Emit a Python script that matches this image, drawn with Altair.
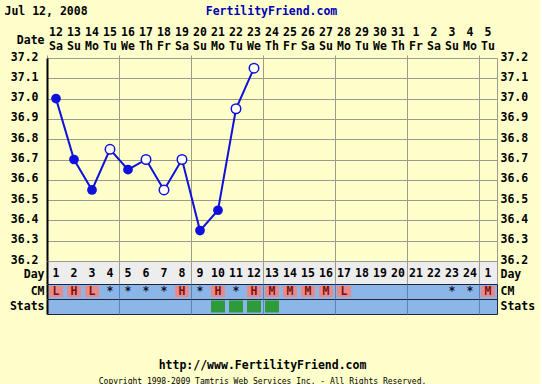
import altair as alt
import pandas as pd

# ---- data ----
dates = [12, 13, 14, 15, 16, 17, 18, 19, 20, 21, 22, 23, 24, 25, 26, 27, 28, 29, 30, 31, 1, 2, 3, 4, 5]
weekdays = ["Sa", "Su", "Mo", "Tu", "We", "Th", "Fr", "Sa", "Su", "Mo", "Tu", "We", "Th",
            "Fr", "Sa", "Su", "Mo", "Tu", "We", "Th", "Fr", "Sa", "Su", "Mo", "Tu"]
cycle_days = [1, 2, 3, 4, 5, 6, 7, 8, 9, 10, 11, 12, 13, 14, 15, 16, 17, 18, 19, 20, 21, 22, 23, 24, 1]
temps = [37.00, 36.70, 36.55, 36.75, 36.65, 36.70, 36.55, 36.70, 36.35, 36.45, 36.95, 37.15]
temp_filled = [True, True, True, False, True, False, False, False, True, True, False, False]
cm = ["L", "H", "L", "*", "*", "*", "*", "H", "*", "H", "*", "H", "M",
      "M", "M", "M", "L", "", "", "", "", "", "*", "*", "M"]
stats = [False, False, False, False, False, False, False, False, False, True, True, True, True,
         False, False, False, False, False, False, False, False, False, False, False, False]
temp_ticks = [36.2, 36.3, 36.4, 36.5, 36.6, 36.7, 36.8, 36.9, 37.0, 37.1, 37.2]
row_labels = ["Day", "CM", "Stats"]

# ---- styling ----
F = "DejaVu Sans Mono"
FS = 11.5
BG = "#FFFFCC"
GRID = "#9c9c8c"
BLUE = "#1010DC"
ROWBLUE = "#8DB6E8"
ROWGRID = "#5f82b4"
DARK = "#23233a"
PINK = "#E88A8A"
GREEN = "#2F9A3A"

n = len(dates)
idx = list(range(1, n + 1))
col_edges = [k + 0.5 for k in range(n + 1)]
XSCALE = alt.Scale(domain=[0.5, n + 0.5], nice=False, zero=False)

# header (date + weekday)
hdr_df = pd.DataFrame({
    "i": idx + idx,
    "row": ["num"] * n + ["wd"] * n,
    "txt": [str(d) for d in dates] + weekdays,
})
header = alt.Chart(hdr_df).mark_text(font=F, fontSize=FS, fontWeight="bold", color="black").encode(
    x=alt.X("i:Q", scale=XSCALE, axis=alt.Axis(
        orient="top", labels=False, ticks=False, domain=False, grid=False,
        title="FertilityFriend.com", titleX=224, titleY=-16, titleAlign="center",
        titleBaseline="middle", titleColor="#0000B4", titleFont=F, titleFontSize=FS,
        titleFontWeight="bold")),
    y=alt.Y("row:N", scale=alt.Scale(type="point", domain=["num", "wd"], padding=0.607, align=0.353),
            axis=alt.Axis(labels=False, ticks=False, domain=False, grid=False, title="Date",
                          titleAngle=0, titleAlign="right", titleBaseline="middle",
                          titleX=-3, titleY=13)),
    text="txt:N",
).properties(width=450, height=31, view=alt.ViewBackground(strokeOpacity=0))

# main temperature chart
temp_df = pd.DataFrame({"i": idx[:len(temps)], "t": temps, "filled": temp_filled})
base = alt.Chart(temp_df)
YSCALE = alt.Scale(domain=[36.2, 37.2], nice=False, zero=False)
line = base.mark_line(color=BLUE, strokeWidth=2).encode(
    x=alt.X("i:Q", scale=XSCALE, axis=alt.Axis(
        orient="top", values=col_edges, labels=False, grid=True, gridColor=GRID,
        ticks=True, tickSize=3, tickColor=GRID, domain=False, title=None)),
    y=alt.Y("t:Q", scale=YSCALE, axis=alt.Axis(
        orient="left", values=temp_ticks, format=".1f", grid=True, gridColor=GRID,
        ticks=False, domainColor="black", domainWidth=2, labelPadding=9,
        labelFlush=False, labelBaseline="middle", labelOffset=-1,
        title="Jul 12, 2008", titleAngle=0, titleAlign="left", titleBaseline="middle",
        titleX=-43, titleY=-47)),
)
pts_f = base.transform_filter("datum.filled").mark_circle(size=95, color=BLUE, opacity=1).encode(
    x=alt.X("i:Q", scale=XSCALE), y=alt.Y("t:Q", scale=YSCALE, axis=None))
pts_o = base.transform_filter("!datum.filled").mark_point(
    shape="circle", size=90, filled=True, fill="white", stroke=BLUE, strokeWidth=1.5, opacity=1
).encode(x=alt.X("i:Q", scale=XSCALE), y=alt.Y("t:Q", scale=YSCALE, axis=None))
right_axis = base.mark_line(opacity=0).encode(
    x=alt.X("i:Q", scale=XSCALE),
    y=alt.Y("t:Q", scale=YSCALE, axis=alt.Axis(
        orient="right", values=temp_ticks, format=".1f", grid=False, ticks=False,
        domain=False, labelPadding=3, labelFlush=False, labelBaseline="middle",
        labelOffset=-1, title=None)),
)
main = alt.layer(line, pts_f, pts_o, right_axis).resolve_axis(y="independent").properties(
    width=450, height=203, view=alt.ViewBackground(stroke=GRID, fill=BG))

# rows below
rows_df = pd.DataFrame({"i": idx, "cd": [str(c) for c in cycle_days], "cm": cm, "stat": stats})


def row_axis(orient, title=None, **kw):
    args = dict(orient=orient, ticks=False, grid=False, labelPadding=3, title=title)
    if orient == "left":
        args.update(domainColor="black", domainWidth=2)
    else:
        args.update(domain=False)
    args.update(kw)
    return alt.Axis(**args)


def rows_y(label, axis):
    return alt.Y("row:N", scale=alt.Scale(domain=[label], paddingInner=0, paddingOuter=0), axis=axis)


# Day row
dbase = alt.Chart(rows_df).transform_calculate(row=f"'{row_labels[0]}'")
day_txt = dbase.mark_text(font=F, fontSize=FS, fontWeight="bold", color="black", dy=1).encode(
    x=alt.X("i:Q", scale=XSCALE, axis=alt.Axis(values=col_edges, grid=True, gridColor=GRID,
                                              labels=False, ticks=False, domain=False, title=None)),
    y=rows_y(row_labels[0], row_axis("left", labelOffset=2)),
    text="cd:N",
)
day_r = dbase.mark_text(opacity=0).encode(
    x=alt.X("i:Q", scale=XSCALE), y=rows_y(row_labels[0], row_axis("right", labelOffset=2)), text="cd:N")
day_row = alt.layer(day_txt, day_r).resolve_axis(y="independent").properties(
    width=450, height=23, view=alt.ViewBackground(fill="#EDEDED", stroke=GRID))

# CM row
cbase = alt.Chart(rows_df).transform_calculate(row=f"'{row_labels[1]}'", x2="datum.i + 0.5",
                                                 x1="datum.i - 0.5")
cm_bars = cbase.transform_filter("datum.cm != '' && datum.cm != '*'").mark_bar(
    height=11, xOffset=2, x2Offset=-2, color=PINK, opacity=1).encode(
    x=alt.X("x1:Q", scale=XSCALE, axis=alt.Axis(values=col_edges, grid=True, gridColor=ROWGRID,
                                               labels=False, ticks=False, domain=False, title=None)),
    x2="x2:Q",
    y=rows_y(row_labels[1], row_axis("left")),
)
cm_txt = cbase.transform_filter("datum.cm != ''").mark_text(font=F, fontSize=FS, fontWeight="bold").encode(
    x=alt.X("i:Q", scale=XSCALE),
    y=rows_y(row_labels[1], None),
    text="cm:N",
    color=alt.condition("datum.cm == '*'", alt.value("#101030"), alt.value("#7A1010")),
)
cm_r = cbase.mark_text(opacity=0).encode(
    x=alt.X("i:Q", scale=XSCALE), y=rows_y(row_labels[1], row_axis("right")), text="cm:N")
cm_row = alt.layer(cm_bars, cm_txt, cm_r).resolve_axis(y="independent").properties(
    width=450, height=15, view=alt.ViewBackground(fill=ROWBLUE, stroke=DARK))

# Stats row
sbase = alt.Chart(rows_df).transform_calculate(row=f"'{row_labels[2]}'", x2="datum.i + 0.5",
                                                 x1="datum.i - 0.5")
st_bars = sbase.transform_filter("datum.stat").mark_bar(
    height=12, xOffset=2, x2Offset=-2, color=GREEN, opacity=1).encode(
    x=alt.X("x1:Q", scale=XSCALE, axis=alt.Axis(
        values=col_edges, grid=True, gridColor=ROWGRID, labels=False, ticks=False, domain=False,
        title="http://www.FertilityFriend.com", titleX=215, titleY=51, titleAlign="center",
        titleBaseline="middle")),
    x2="x2:Q",
    y=rows_y(row_labels[2], row_axis(
        "left", title="Copyright 1998-2009 Tamtris Web Services Inc. - All Rights Reserved.",
        titleAngle=0, titleAlign="center", titleBaseline="middle", titleX=215, titleY=82,
        titleFontSize=8, titleFontWeight="normal")),
)
st_r = sbase.mark_text(opacity=0).encode(
    x=alt.X("i:Q", scale=XSCALE), y=rows_y(row_labels[2], row_axis("right")), text="cm:N")
st_row = alt.layer(st_bars, st_r).resolve_axis(y="independent").properties(
    width=450, height=15, view=alt.ViewBackground(fill=ROWBLUE, stroke=DARK))

chart = alt.vconcat(header, main, day_row, cm_row, st_row, spacing=0, bounds="flush").properties(
    background=BG,
    padding={"left": 3, "top": 4, "right": 4, "bottom": 0},
).configure_axis(
    labelFont=F, labelFontSize=FS, labelFontWeight="bold", labelColor="black",
    titleFont=F, titleFontSize=FS, titleFontWeight="bold", titleColor="black",
)

chart.save("out.html", embed_options={"renderer": "svg", "actions": False})
